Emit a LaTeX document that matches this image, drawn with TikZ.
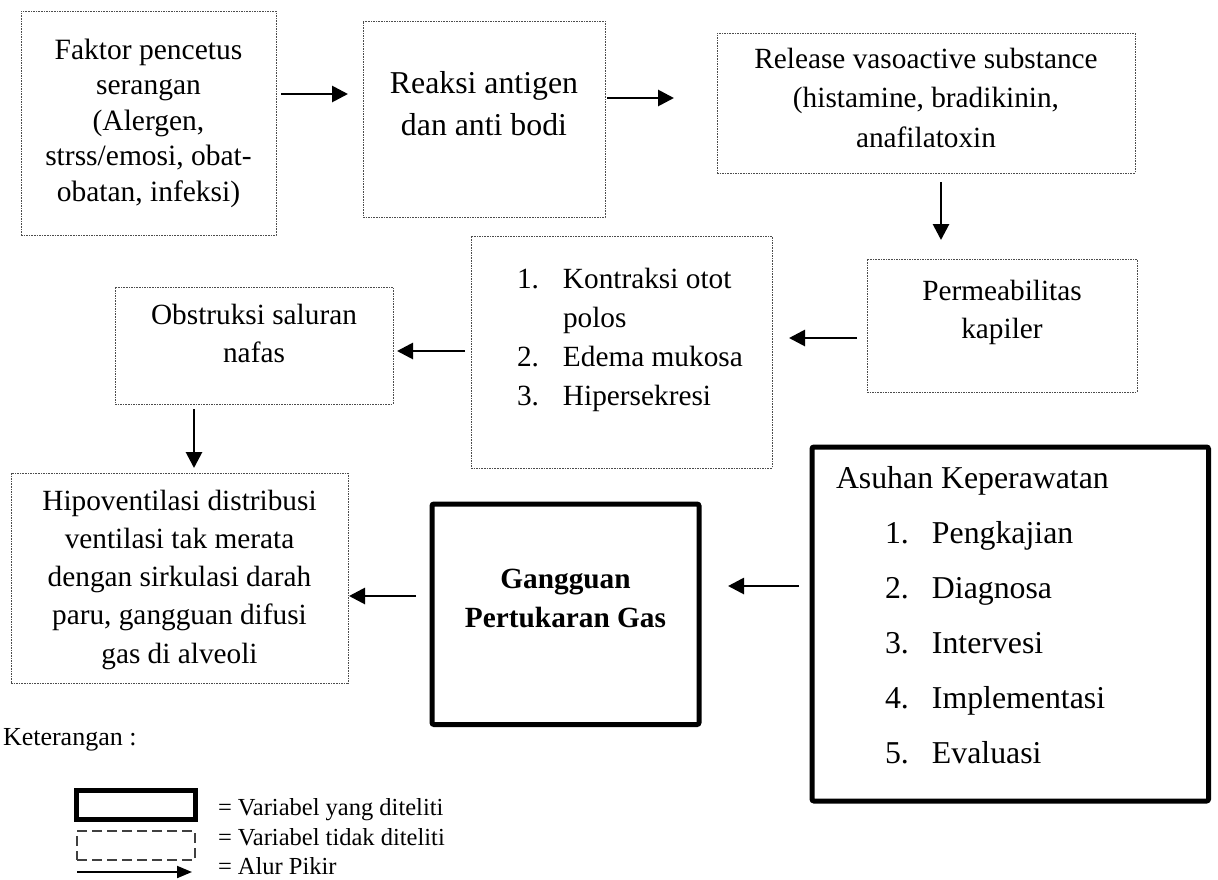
\documentclass[tikz,border=0pt]{standalone}
\usepackage{fontspec}
\setmainfont{Liberation Serif}
\usetikzlibrary{arrows.meta}
\newcommand\myfs[2]{\fontsize{#1}{#2}\selectfont}
\tikzset{
  dbox/.style={rectangle, draw=black!70, line width=0.9pt, dash pattern=on 1.6pt off 1pt, inner sep=0pt, outer sep=0pt},
  tbox/.style={rectangle, draw=black, line width=5pt, rounded corners=2pt, inner sep=0pt, outer sep=0pt},
  arr/.style={line width=2.8pt, -{Triangle[length=16pt,width=16pt]}},
  legarr/.style={line width=2pt, -{Triangle[length=15pt,width=12pt]}},
  txt/.style={inner sep=0pt, outer sep=0pt, anchor=base},
  ltxt/.style={inner sep=0pt, outer sep=0pt, anchor=base west},
}
\begin{document}
\begin{tikzpicture}[x=1pt,y=-1pt]
\useasboundingbox (0,0) rectangle (1218,879);

% boxes
\node[dbox, minimum width=255pt, minimum height=224pt] (b1) at (148.5,123) {};
\node[dbox, minimum width=242pt, minimum height=196pt] (b2) at (484,119) {};
\node[dbox, minimum width=418pt, minimum height=140pt] (b3) at (926,103) {};
\node[dbox, minimum width=270pt, minimum height=133pt] (b4) at (1002,325.5) {};
\node[dbox, minimum width=301pt, minimum height=232pt] (b5) at (621.5,352) {};
\node[dbox, minimum width=278pt, minimum height=117pt] (b6) at (254,345.5) {};
\node[dbox, minimum width=337pt, minimum height=210pt] (b7) at (179.5,578) {};
\node[tbox, minimum width=267pt, minimum height=220.5pt] (b8) at (565.5,614.25) {};
\node[tbox, minimum width=396.5pt, minimum height=354pt] (b9) at (1010.25,624) {};

% texts
\node[txt] (t1) at (148.5,59) {\parbox[t]{250pt}{\centering\myfs{29.5}{35.5}Faktor pencetus\\serangan\\(Alergen,\\strss/emosi, obat-\\obatan, infeksi)}};
\node[txt] (t2) at (484,93) {\parbox[t]{240pt}{\centering\myfs{31.8}{42}Reaksi antigen\\dan anti bodi}};
\node[txt] (t3) at (926,68) {\parbox[t]{410pt}{\centering\myfs{29.3}{39.5}Release vasoactive substance\\(histamine, bradikinin,\\anafilatoxin}};
\node[txt] (t4) at (1002,300) {\parbox[t]{260pt}{\centering\myfs{29.3}{38}Permeabilitas\\kapiler}};
\node[ltxt] (t5) at (517,288) {\parbox[t]{250pt}{\raggedright\myfs{29.3}{39}\makebox[46pt][l]{1.}Kontraksi otot\\\hspace*{46pt}polos\\\makebox[46pt][l]{2.}Edema mukosa\\\makebox[46pt][l]{3.}Hipersekresi}};
\node[txt] (t6) at (254,324) {\parbox[t]{275pt}{\centering\myfs{29.3}{38}Obstruksi saluran\\nafas}};
\node[txt] (t7) at (179.5,510) {\parbox[t]{335pt}{\centering\myfs{29.3}{38.3}Hipoventilasi distribusi\\ventilasi tak merata\\dengan sirkulasi darah\\paru, gangguan difusi\\gas di alveoli}};
\node[txt] (t8) at (565.5,588) {\parbox[t]{260pt}{\centering\myfs{29.3}{39}\bfseries Gangguan\\Pertukaran Gas}};
\node[ltxt] (t9) at (836,488) {\myfs{31.8}{38}Asuhan Keperawatan};
\node[ltxt] (t10) at (885,543) {\parbox[t]{300pt}{\raggedright\myfs{31.8}{55}\makebox[47pt][l]{1.}Pengkajian\\\makebox[47pt][l]{2.}Diagnosa\\\makebox[47pt][l]{3.}Intervesi\\\makebox[47pt][l]{4.}Implementasi\\\makebox[47pt][l]{5.}Evaluasi}};

% arrows
\draw[arr, shorten <=5pt, shorten >=15pt] (b1.east |- 0,94) -- (b2.west |- 0,94);
\draw[arr, shorten <=2pt, shorten >=43pt] (b2.east |- 0,98) -- (b3.west |- 0,98);
\draw[arr, shorten <=9pt, shorten >=19pt] (b3.south -| 941,0) -- (b4.north -| 941,0);
\draw[arr, shorten <=10pt, shorten >=17pt] (b4.west |- 0,338) -- (b5.east |- 0,338);
\draw[arr, shorten <=6pt, shorten >=4pt] (b5.west |- 0,351) -- (b6.east |- 0,351);
\draw[arr, shorten <=5pt, shorten >=5pt] (b6.south -| 194,0) -- (b7.north -| 194,0);
\draw[arr, shorten <=16pt, shorten >=1pt] (b8.west |- 0,596) -- (b7.east |- 0,596);
\draw[arr, shorten <=13pt, shorten >=29pt] (b9.west |- 0,586) -- (b8.east |- 0,586);

% legend
\node[ltxt] (k) at (3,745) {\myfs{26}{30}Keterangan :};
\node[tbox, rounded corners=0pt, line width=5.3pt, minimum width=118.6pt, minimum height=28.6pt] (lg1) at (136,805) {};
\node[rectangle, draw=black!75, line width=1.3pt, dash pattern=on 10pt off 5pt, inner sep=0pt, outer sep=0pt, minimum width=118pt, minimum height=29pt] (lg2) at (136,845.5) {};
\coordinate (la1) at (77,872);
\coordinate (la2) at (192,872);
\draw[legarr] (la1) -- (la2);
\node[ltxt] (l1) at (218,815) {\myfs{24.5}{30}= Variabel yang diteliti};
\node[ltxt] (l2) at (218,845) {\myfs{24.5}{30}= Variabel tidak diteliti};
\node[ltxt] (l3) at (218,874) {\myfs{24.5}{30}= Alur Pikir};
\end{tikzpicture}
\end{document}
